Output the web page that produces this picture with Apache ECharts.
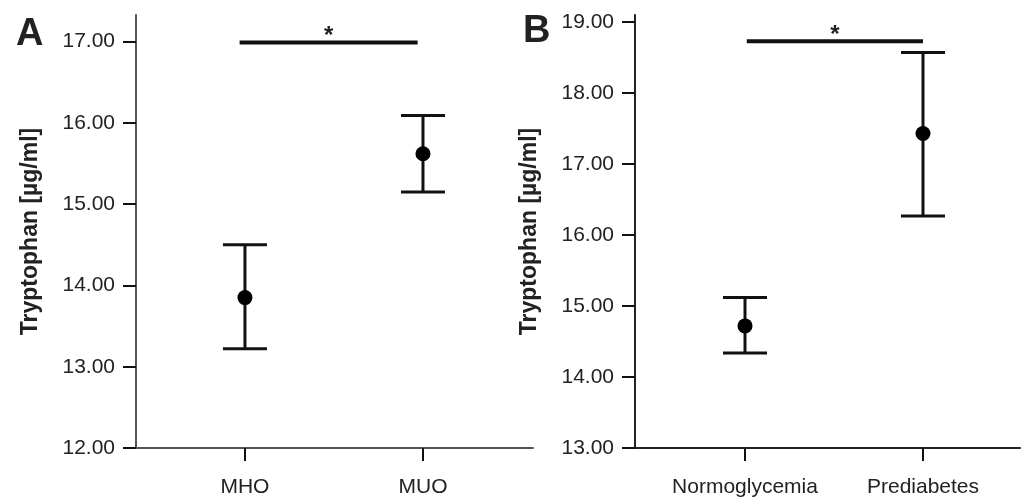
<!DOCTYPE html>
<html>
<head>
<meta charset="utf-8">
<script src="https://cdn.jsdelivr.net/npm/echarts@6/dist/echarts.min.js"></script>
<style>
  html, body { margin: 0; padding: 0; background: #fff; }
  #chart { width: 1021px; height: 498px; }
</style>
</head>
<body>
<div id="chart"></div>
<script>
// panel A: metabolic health
var catsA = ['MHO', 'MUO'];
var meanA = [13.85, 15.62];
var lowA = [13.22, 15.15];
var highA = [14.50, 16.09];
var ticksA = [12, 13, 14, 15, 16, 17];
var sigA = [-0.03, 0.97, 16.99];   // from, to, level

// panel B: glycemia
var catsB = ['Normoglycemia', 'Prediabetes'];
var meanB = [14.72, 17.43];
var lowB = [14.34, 16.27];
var highB = [15.12, 18.57];
var ticksB = [13, 14, 15, 16, 17, 18, 19];
var sigB = [0.01, 1.0, 18.73];

var FONT = 'Liberation Sans, Arial, sans-serif';
var yName = 'Tryptophan [µg/ml]';

function errRender(params, api) {
    var x = api.value(0);
    var pLo = api.coord([x, api.value(1)]);
    var pHi = api.coord([x, api.value(2)]);
    var w = 22;
    var st = { stroke: '#111', lineWidth: 3 };
    return {
        type: 'group',
        children: [
            { type: 'line', shape: { x1: pHi[0], y1: pHi[1], x2: pLo[0], y2: pLo[1] }, style: st },
            { type: 'line', shape: { x1: pHi[0] - w, y1: pHi[1], x2: pHi[0] + w, y2: pHi[1] }, style: st },
            { type: 'line', shape: { x1: pLo[0] - w, y1: pLo[1], x2: pLo[0] + w, y2: pLo[1] }, style: st }
        ]
    };
}

function sigRender(params, api) {
    var a = api.coord([api.value(0), api.value(2)]);
    var b = api.coord([api.value(1), api.value(2)]);
    return {
        type: 'group',
        children: [
            { type: 'line', shape: { x1: a[0], y1: a[1], x2: b[0], y2: b[1] }, style: { stroke: '#111', lineWidth: 4 } },
            { type: 'text', x: (a[0] + b[0]) / 2, y: a[1] + 6, style: { text: '*', fill: '#222', font: 'bold 24px ' + FONT, align: 'center', verticalAlign: 'bottom' } }
        ]
    };
}

function xAxisFor(idx, cats, min, max, col) {
    return {
        type: 'value', gridIndex: idx, min: min, max: max,
        axisLine: { show: true, onZero: false, lineStyle: { color: col, width: 2 } },
        axisTick: { show: true, customValues: [0, 1], length: 13, lineStyle: { color: '#111', width: 2 } },
        axisLabel: {
            customValues: [0, 1], margin: 29, color: '#222', fontSize: 21, fontFamily: FONT,
            formatter: function (v) { return cats[Math.round(v)]; }
        },
        splitLine: { show: false }
    };
}

function yAxisFor(idx, ticks, min, max, col) {
    return {
        type: 'value', gridIndex: idx, min: min, max: max,
        name: yName, nameLocation: 'middle', nameRotate: 90, nameGap: 94,
        nameTextStyle: { fontSize: 23, fontWeight: 'bold', color: '#222', fontFamily: FONT },
        axisLine: { show: true, onZero: false, lineStyle: { color: col, width: 2 } },
        axisTick: { show: true, customValues: ticks, length: 13, lineStyle: { color: '#111', width: 2 } },
        axisLabel: {
            customValues: ticks, margin: 21, color: '#222', fontSize: 21, fontFamily: FONT,
            formatter: function (v) { return v.toFixed(2); }
        },
        splitLine: { show: false }
    };
}

function pairs(a, b) {
    return a.map(function (v, i) { return [i, v, b[i]]; });
}

var chart = echarts.init(document.getElementById('chart'));
chart.setOption({
    animation: false,
    title: [
        { text: 'A', left: 11, top: 11, textStyle: { fontSize: 38, fontWeight: 'bold', color: '#222', fontFamily: FONT } },
        { text: 'B', left: 518, top: 8, textStyle: { fontSize: 38, fontWeight: 'bold', color: '#222', fontFamily: FONT } }
    ],
    grid: [
        { left: 136, top: 15, width: 397, height: 434.3 },
        { left: 635, top: 15, width: 385, height: 435 }
    ],
    xAxis: [
        xAxisFor(0, catsA, -0.612, 1.618, '#555'),
        xAxisFor(1, catsB, -0.618, 1.545, '#222')
    ],
    yAxis: [
        yAxisFor(0, ticksA, 12, 17.327, '#555'),
        yAxisFor(1, ticksB, 13, 19.10, '#222')
    ],
    series: [
        { type: 'custom', xAxisIndex: 0, yAxisIndex: 0, renderItem: errRender, encode: { x: 0, y: [1, 2] }, data: pairs(lowA, highA) },
        { type: 'scatter', xAxisIndex: 0, yAxisIndex: 0, symbolSize: 15, itemStyle: { color: '#000', opacity: 1 }, data: meanA.map(function (v, i) { return [i, v]; }) },
        { type: 'custom', xAxisIndex: 0, yAxisIndex: 0, renderItem: sigRender, encode: { x: [0, 1], y: 2 }, data: [sigA] },
        { type: 'custom', xAxisIndex: 1, yAxisIndex: 1, renderItem: errRender, encode: { x: 0, y: [1, 2] }, data: pairs(lowB, highB) },
        { type: 'scatter', xAxisIndex: 1, yAxisIndex: 1, symbolSize: 15, itemStyle: { color: '#000', opacity: 1 }, data: meanB.map(function (v, i) { return [i, v]; }) },
        { type: 'custom', xAxisIndex: 1, yAxisIndex: 1, renderItem: sigRender, encode: { x: [0, 1], y: 2 }, data: [sigB] }
    ]
});
</script>
</body>
</html>
